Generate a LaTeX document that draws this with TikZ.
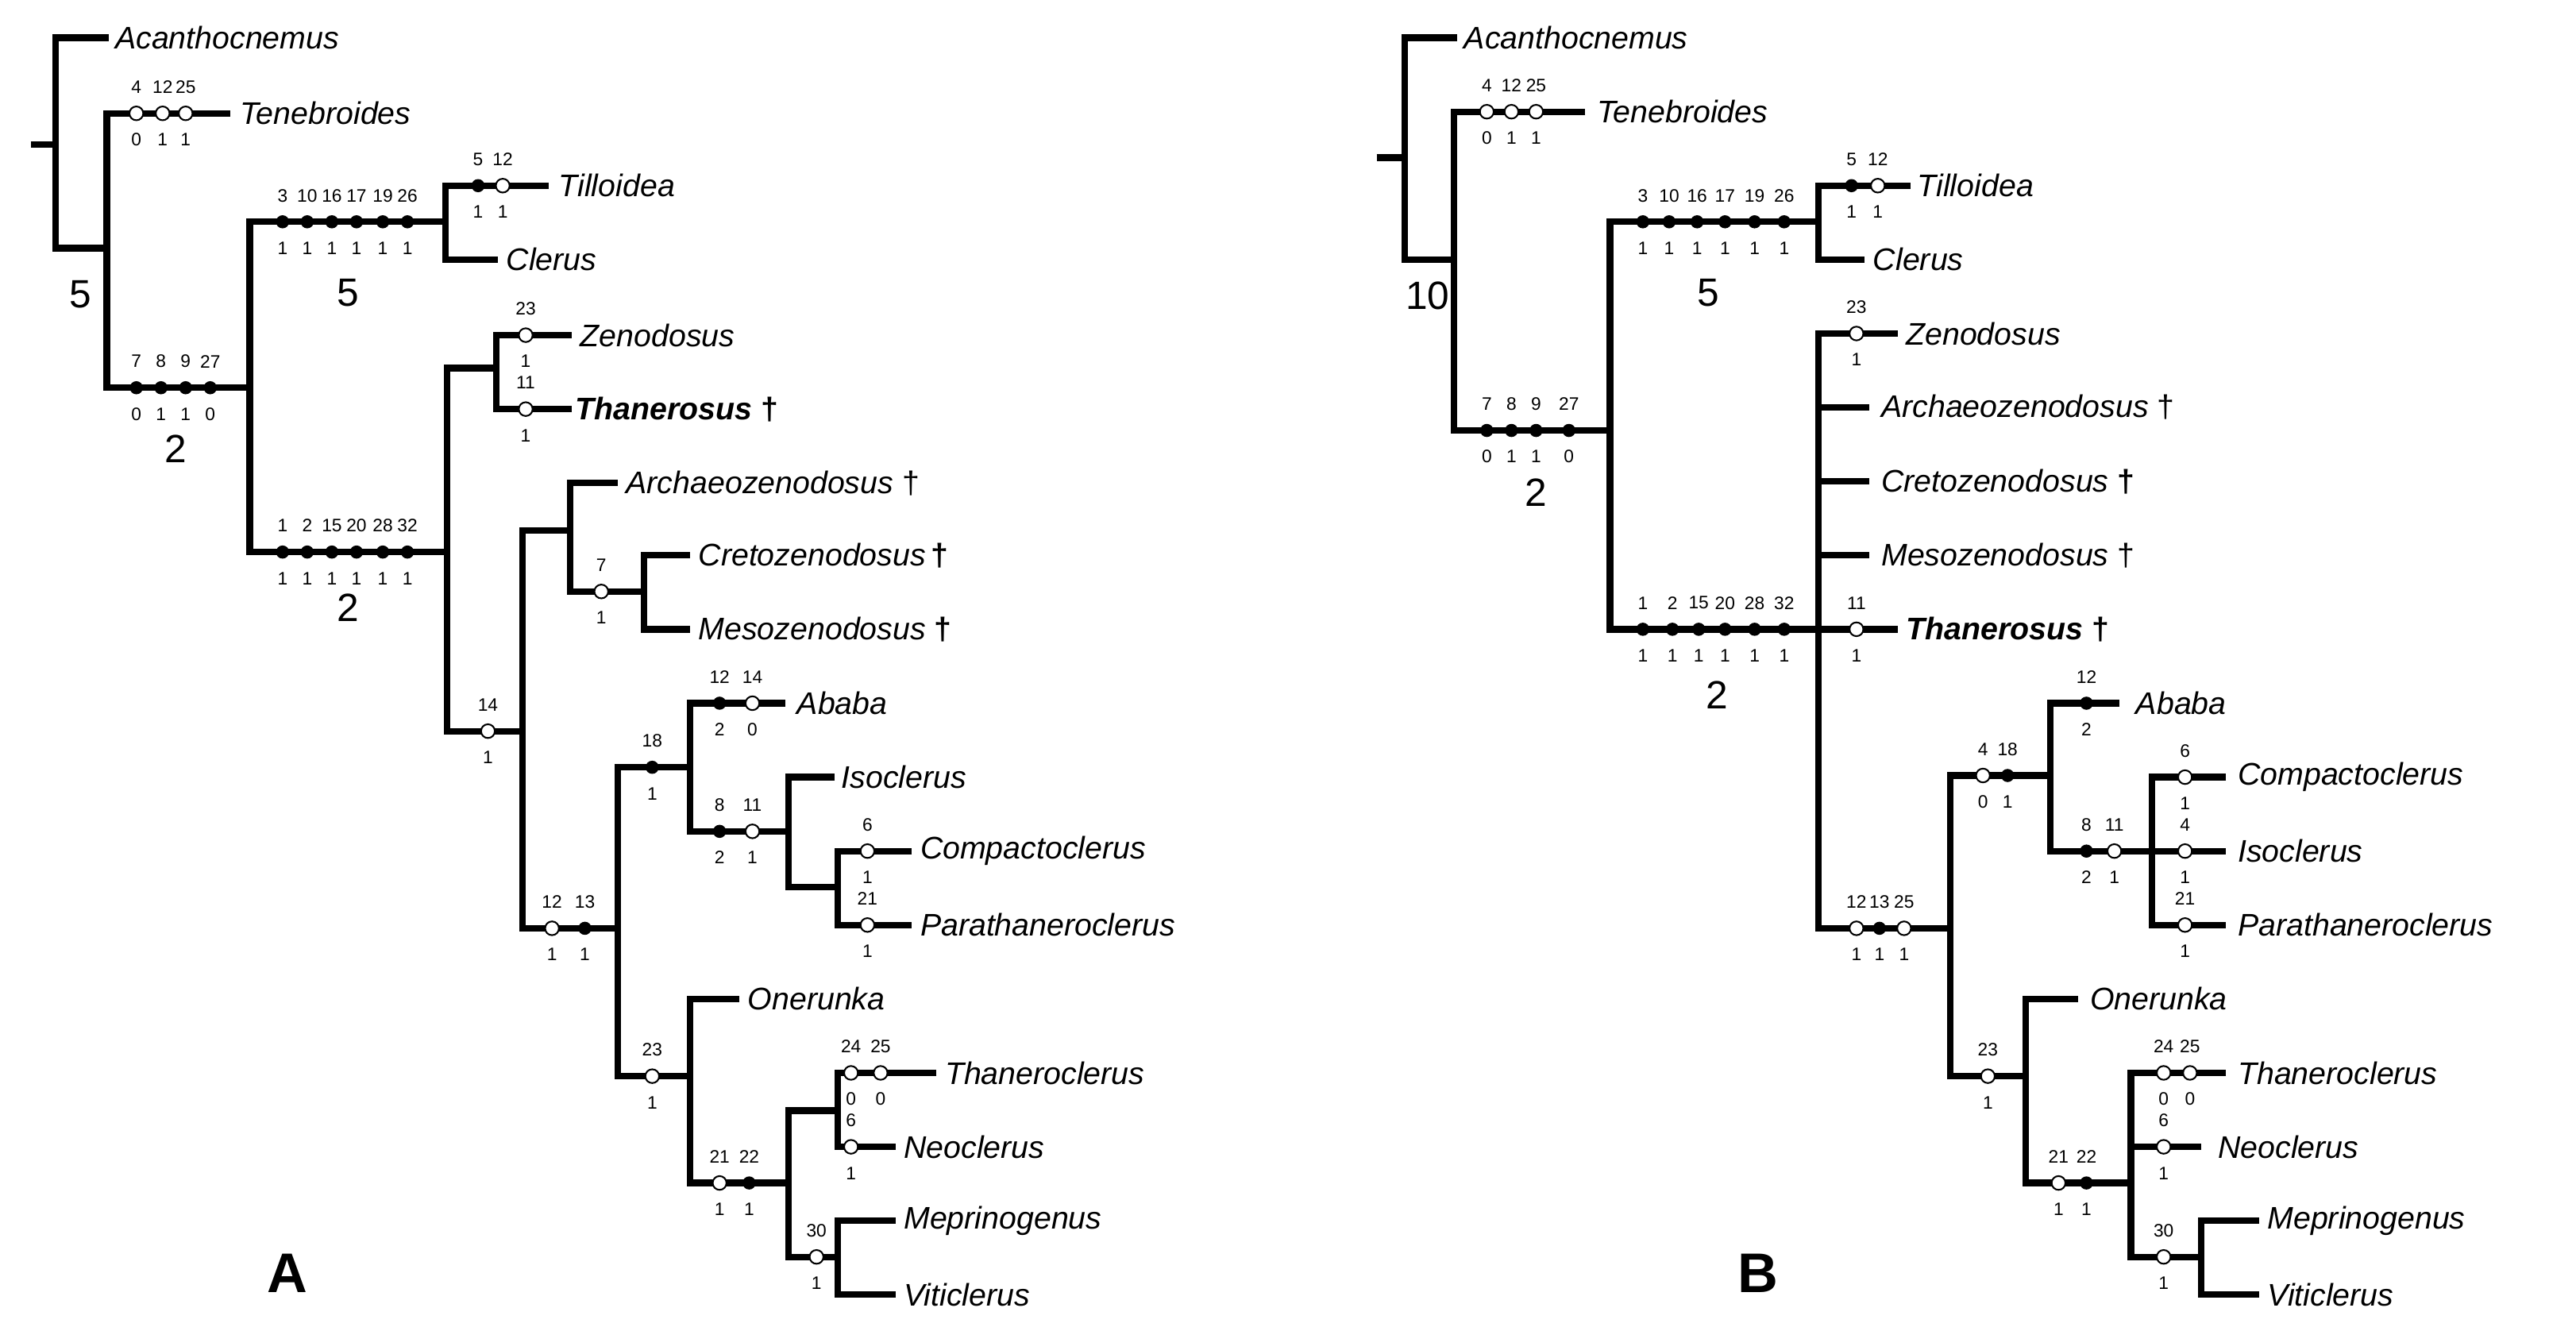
\documentclass[tikz,border=0pt]{standalone}
\usepackage{fontspec}
\setmainfont{Liberation Sans}
\begin{document}
\begin{tikzpicture}[x=1pt,y=-1pt,
  br/.style={line width=4pt},
  tx/.style={anchor=west,font=\fontsize{19}{19}\selectfont\itshape,inner sep=0pt},
  ch/.style={font=\fontsize{11}{11}\selectfont,inner sep=0pt},
  sup/.style={font=\fontsize{24}{24}\selectfont,inner sep=0pt}]
\useasboundingbox (0,0) rectangle (1568,810);
\newcommand\oc[4]{\draw[fill=white,line width=1pt] (#1,#2) circle (4.2);
  \node[ch] at (#1,#2-16) {#3}; \node[ch] at (#1,#2+16) {#4};}
\newcommand\fc[4]{\fill (#1,#2) circle (4);
  \node[ch] at (#1,#2-16) {#3}; \node[ch] at (#1,#2+16) {#4};}
\newcommand\tx[4]{\node[tx] (#1) at (#2,#3) {#4};}
% ================= A =================
\draw[br] (19,88)--(34,88);
\draw[br] (66,23)-|(34,151)--(65,151);
\draw[br] (140,69)-|(65,236)--(152,236);
\tx{aAc}{70}{23}{Acanthocnemus}
\tx{aTe}{146}{69}{Tenebroides}
\oc{83}{69}{4}{0}\oc{99}{69}{12}{1}\oc{113}{69}{25}{1}
\fc{83}{236}{7}{0}\fc{98}{236}{8}{1}\fc{113}{236}{9}{1}\fc{128}{236}{27}{0}
\node[sup] at (49,179){5}; \node[sup] at (107,273){2};
\draw[br] (271,135)-|(152,336)--(272,336);
\fc{172}{135}{3}{1}\fc{187}{135}{10}{1}\fc{202}{135}{16}{1}\fc{217}{135}{17}{1}\fc{233}{135}{19}{1}\fc{248}{135}{26}{1}
\node[sup] at (212,178){5};
\fc{172}{336}{1}{1}\fc{187}{336}{2}{1}\fc{202}{336}{15}{1}\fc{217}{336}{20}{1}\fc{233}{336}{28}{1}\fc{248}{336}{32}{1}
\node[sup] at (212,370){2};
\draw[br] (334,113)-|(271,158)--(303,158);
\tx{aTi}{340}{113}{Tilloidea}\tx{aCl}{308}{158}{Clerus}
\fc{291}{113}{5}{1}\oc{306}{113}{12}{1}
\draw[br] (348,204)-|(302,249)--(348,249);
\draw[br] (302,224)-|(272,445)--(318,445);
\tx{aZe}{353}{204}{Zenodosus}
\node[tx,font=\fontsize{19}{19}\selectfont\bfseries\itshape] (aTh) at (350,249) {Thanerosus \upshape\bfseries †};
\oc{320}{204}{23}{1}\oc{320}{249}{11}{1}
\oc{297}{445}{14}{1}
\draw[br] (347,323)-|(318,565)--(376,565);
\draw[br] (376,294)-|(347,360)--(392,360);
\draw[br] (420,338)-|(392,383)--(420,383);
\tx{aAr}{381}{294}{Archaeozenodosus \upshape †}
\tx{aCr}{425}{338}{Cretozenodosus\,\upshape\bfseries †}
\tx{aMe}{425}{383}{Mesozenodosus \upshape\bfseries †}
\oc{366}{360}{7}{1}
\oc{336}{565}{12}{1}\fc{356}{565}{13}{1}
\draw[br] (420,467)-|(376,655)--(420,655);
\fc{397}{467}{18}{1}
\draw[br] (478,428)-|(420,506)--(480,506);
\tx{aAb}{485}{428}{Ababa}
\fc{438}{428}{12}{2}\oc{458}{428}{14}{0}
\fc{438}{506}{8}{2}\oc{458}{506}{11}{1}
\draw[br] (508,473)-|(480,540)--(510,540);
\tx{aIs}{512}{473}{Isoclerus}
\draw[br] (555,518)-|(510,563)--(555,563);
\tx{aCo}{560}{518}{Compactoclerus}\tx{aPa}{560}{563}{Parathaneroclerus}
\oc{528}{518}{6}{1}\oc{528}{563}{21}{1}
\oc{397}{655}{23}{1}
\draw[br] (450,608)-|(420,720)--(480,720);
\tx{aOn}{455}{608}{Onerunka}
\oc{438}{720}{21}{1}\fc{456}{720}{22}{1}
\draw[br] (510,676)-|(480,765)--(510,765);
\draw[br] (570,653)-|(510,698)--(545,698);
\tx{aTc}{575}{653}{Thaneroclerus}\tx{aNe}{550}{698}{Neoclerus}
\oc{518}{653}{24}{0}\oc{536}{653}{25}{0}\oc{518}{698}{6}{1}
\draw[br] (545,743)-|(510,788)--(545,788);
\tx{aMp}{550}{743}{Meprinogenus}\tx{aVi}{550}{788}{Viticlerus}
\oc{497}{765}{30}{1}
\node[font=\fontsize{34}{34}\selectfont\bfseries] at (175,775) {A};
% ================= B =================
\draw[br] (838,96)--(855,96);
\draw[br] (887,23)-|(855,158)--(885,158);
\draw[br] (965,68)-|(885,262)--(980,262);
\tx{bAc}{891}{23}{Acanthocnemus}
\tx{bTe}{972}{68}{Tenebroides}
\oc{905}{68}{4}{0}\oc{920}{68}{12}{1}\oc{935}{68}{25}{1}
\fc{905}{262}{7}{0}\fc{920}{262}{8}{1}\fc{935}{262}{9}{1}\fc{955}{262}{27}{0}
\node[sup] at (869,180){10}; \node[sup] at (935,300){2};
\draw[br] (1107,135)-|(980,383)--(1107,383);
\fc{1000}{135}{3}{1}\fc{1016}{135}{10}{1}\fc{1033}{135}{16}{1}\fc{1050}{135}{17}{1}\fc{1068}{135}{19}{1}\fc{1086}{135}{26}{1}
\node[sup] at (1040,178){5};
\fc{1000}{383}{1}{1}\fc{1018}{383}{2}{1}\fc{1034}{383}{15}{1}\fc{1050}{383}{20}{1}\fc{1068}{383}{28}{1}\fc{1086}{383}{32}{1}
\node[sup] at (1045,423){2};
\draw[br] (1163,113)-|(1107,158)--(1135,158);
\tx{bTi}{1167}{113}{Tilloidea}\tx{bCl}{1140}{158}{Clerus}
\fc{1127}{113}{5}{1}\oc{1143}{113}{12}{1}
\draw[br] (1155,203)-|(1107,565)--(1187,565);
\draw[br] (1107,248)--(1138,248) (1107,293)--(1138,293) (1107,338)--(1138,338) (1107,383)--(1155,383);
\tx{bZe}{1160}{203}{Zenodosus}
\tx{bAr}{1145}{248}{Archaeozenodosus \upshape †}
\tx{bCr}{1145}{293}{Cretozenodosus \upshape\bfseries †}
\tx{bMe}{1145}{338}{Mesozenodosus \upshape †}
\node[tx,font=\fontsize{19}{19}\selectfont\bfseries\itshape] (bTh) at (1160,383) {Thanerosus \upshape\bfseries †};
\oc{1130}{203}{23}{1}\oc{1130}{383}{11}{1}
\oc{1130}{565}{12}{1}\fc{1144}{565}{13}{1}\oc{1159}{565}{25}{1}
\draw[br] (1248,472)-|(1187,655)--(1233,655);
\oc{1207}{472}{4}{0}\fc{1222}{472}{18}{1}
\draw[br] (1290,428)-|(1248,518)--(1310,518);
\tx{bAb}{1300}{428}{Ababa}
\fc{1270}{428}{12}{2}
\fc{1270}{518}{8}{2}\oc{1287}{518}{11}{1}
\draw[br] (1355,473)-|(1310,563)--(1355,563);
\draw[br] (1310,518)--(1355,518);
\tx{bCo}{1362}{473}{Compactoclerus}\tx{bIs}{1362}{518}{Isoclerus}\tx{bPa}{1362}{563}{Parathaneroclerus}
\oc{1330}{473}{6}{1}\oc{1330}{518}{4}{1}\oc{1330}{563}{21}{1}
\oc{1210}{655}{23}{1}
\draw[br] (1265,608)-|(1233,720)--(1297,720);
\tx{bOn}{1272}{608}{Onerunka}
\oc{1253}{720}{21}{1}\fc{1270}{720}{22}{1}
\draw[br] (1355,653)-|(1297,765)--(1340,765);
\draw[br] (1297,698)--(1340,698);
\tx{bTc}{1362}{653}{Thaneroclerus}\tx{bNe}{1350}{698}{Neoclerus}
\oc{1317}{653}{24}{0}\oc{1333}{653}{25}{0}\oc{1317}{698}{6}{1}
\draw[br] (1375,743)-|(1340,788)--(1375,788);
\tx{bMp}{1380}{743}{Meprinogenus}\tx{bVi}{1380}{788}{Viticlerus}
\oc{1317}{765}{30}{1}
\node[font=\fontsize{34}{34}\selectfont\bfseries] at (1070,775) {B};
\end{tikzpicture}
\end{document}
